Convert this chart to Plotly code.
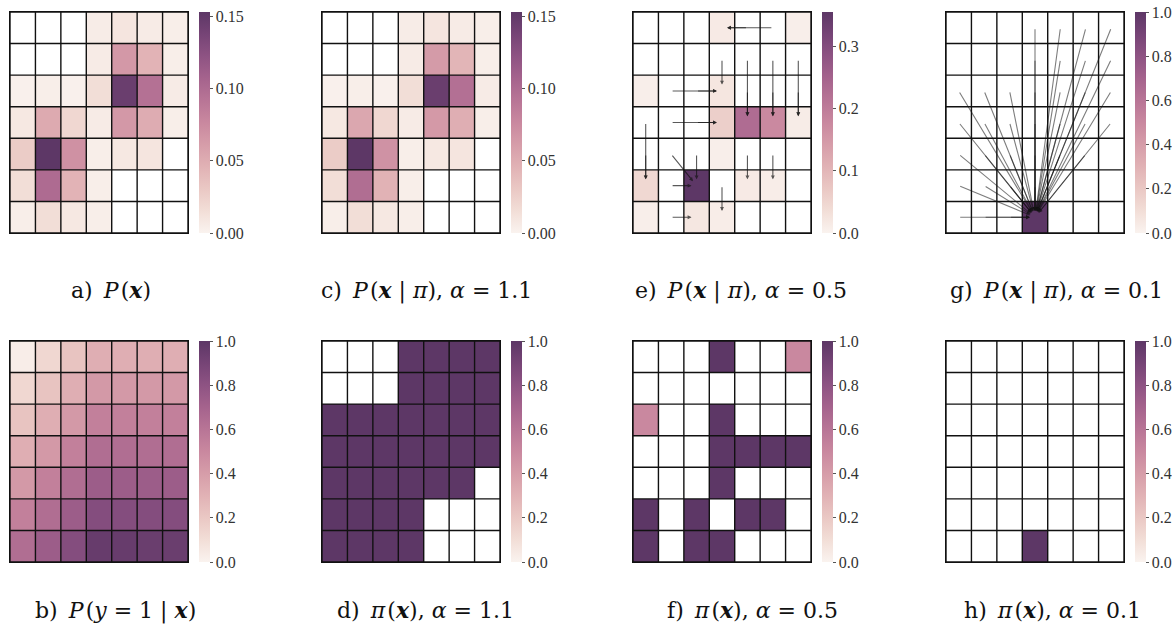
import numpy as np
import plotly.graph_objects as go

N = None

# a) P(x)
p_x = [
    [N, N, N, 0.005, 0.010, 0.006, 0.004],
    [N, N, N, 0.006, 0.065, 0.045, 0.004],
    [0.002, 0.004, 0.002, 0.015, 0.145, 0.095, 0.006],
    [0.008, 0.052, 0.020, 0.006, 0.065, 0.050, 0.004],
    [0.028, 0.153, 0.070, 0.004, 0.008, 0.010, N],
    [0.015, 0.100, 0.045, 0.004, N, N, N],
    [0.004, 0.015, 0.008, 0.004, N, N, N],
]
# c) P(x | pi), alpha = 1.1
p_x_pi_11 = [
    [N, N, N, 0.005, 0.010, 0.006, 0.004],
    [N, N, N, 0.006, 0.063, 0.044, 0.004],
    [0.002, 0.004, 0.002, 0.015, 0.145, 0.096, 0.006],
    [0.008, 0.054, 0.020, 0.006, 0.064, 0.049, 0.004],
    [0.028, 0.153, 0.069, 0.004, 0.008, 0.010, N],
    [0.015, 0.098, 0.046, 0.004, N, N, N],
    [0.004, 0.015, 0.008, 0.004, N, N, N],
]
# e) P(x | pi), alpha = 0.5
p_x_pi_05 = [
    [N, N, N, 0.015, N, N, 0.008],
    [N, N, N, N, N, N, N],
    [0.008, N, N, 0.022, N, N, N],
    [N, N, N, 0.060, 0.230, 0.175, 0.012],
    [N, N, N, 0.008, N, N, N],
    [0.045, N, 0.355, N, 0.015, 0.010, N],
    [0.008, N, 0.020, 0.010, N, N, N],
]
# g) P(x | pi), alpha = 0.1
p_x_pi_01 = [
    [N, N, N, N, N, N, N],
    [N, N, N, N, N, N, N],
    [N, N, N, N, N, N, N],
    [N, N, N, N, N, N, N],
    [N, N, N, N, N, N, N],
    [N, N, N, N, N, N, N],
    [N, N, N, 1.0, N, N, N],
]
# b) P(y = 1 | x)
p_y = [
    [0.03, 0.13, 0.22, 0.32, 0.32, 0.32, 0.32],
    [0.13, 0.22, 0.32, 0.42, 0.42, 0.42, 0.42],
    [0.22, 0.32, 0.42, 0.54, 0.54, 0.54, 0.54],
    [0.32, 0.42, 0.54, 0.64, 0.64, 0.64, 0.64],
    [0.42, 0.54, 0.64, 0.74, 0.74, 0.74, 0.74],
    [0.54, 0.64, 0.74, 0.84, 0.84, 0.84, 0.84],
    [0.64, 0.74, 0.84, 0.96, 0.96, 0.95, 0.95],
]
# d) pi(x), alpha = 1.1
pi_11 = [
    [N, N, N, 1, 1, 1, 1],
    [N, N, N, 1, 1, 1, 1],
    [1, 1, 1, 1, 1, 1, 1],
    [1, 1, 1, 1, 1, 1, 1],
    [1, 1, 1, 1, 1, 1, N],
    [1, 1, 1, 1, N, N, N],
    [1, 1, 1, 1, N, N, N],
]
# f) pi(x), alpha = 0.5
pi_05 = [
    [N, N, N, 1, N, N, 0.5],
    [N, N, N, N, N, N, N],
    [0.5, N, N, 1, N, N, N],
    [N, N, N, 1, 1, 1, 1],
    [N, N, N, 1, N, N, N],
    [1, N, 1, N, 1, 1, N],
    [1, N, 1, 1, N, N, N],
]
# h) pi(x), alpha = 0.1
pi_01 = [
    [N, N, N, N, N, N, N],
    [N, N, N, N, N, N, N],
    [N, N, N, N, N, N, N],
    [N, N, N, N, N, N, N],
    [N, N, N, N, N, N, N],
    [N, N, N, N, N, N, N],
    [N, N, N, 1, N, N, N],
]

# moves under the policy, (col, row) -> (col, row)
moves_05 = [
    ((5, 0), (3, 0)), ((4, 0), (3, 0)),
    ((3, 1), (3, 2)), ((4, 1), (4, 3)), ((5, 1), (5, 3)), ((6, 1), (6, 3)),
    ((4, 2), (4, 3)), ((5, 2), (5, 3)), ((6, 2), (6, 3)),
    ((1, 2), (3, 2)), ((2, 2), (3, 2)),
    ((1, 3), (3, 3)), ((2, 3), (3, 3)),
    ((0, 3), (0, 5)), ((0, 4), (0, 5)),
    ((1, 4), (2, 5)), ((2, 4), (2, 5)), ((1, 5), (2, 5)),
    ((4, 4), (4, 5)), ((5, 4), (5, 5)),
    ((3, 5), (3, 6)), ((1, 6), (2, 6)),
]
target_01 = (3, 6)


def cubehelix(n=11, start=0.0, rot=0.4, hue=0.8, light=0.96, dark=0.28):
    out = []
    for i, x in enumerate(np.linspace(light, dark, n)):
        a = hue * x * (1 - x) / 2
        phi = 2 * np.pi * (start / 3 + rot * x)
        r = x + a * (-0.14861 * np.cos(phi) + 1.78277 * np.sin(phi))
        g = x + a * (-0.29227 * np.cos(phi) - 0.90649 * np.sin(phi))
        b = x + a * (1.97294 * np.cos(phi))
        rgb = [int(round(255 * min(max(v, 0), 1))) for v in (r, g, b)]
        out.append([i / (n - 1), 'rgb(%d,%d,%d)' % tuple(rgb)])
    return out


W, H = 1172, 632
SERIF = 'Liberation Serif'
CAP_FONT = 'DejaVu Serif'
cmap = cubehelix()

col_x = [10, 322, 633, 946]
row_y = [12, 341]
pw, ph = 178, 221
cap_x = [[111, 115], [426, 425], [741, 752], [1056, 1052]]
cap_y = [290, 610]

EN, HAIR = '\u2002', '\u200a'
X = '<b><i>x</i></b>'
panels = [
    (p_x, 0.153, [0, 0.05, 0.10, 0.15], '.2f', 0, 0,
     f'a){EN}<i>P</i>{HAIR}({X})'),
    (p_y, 1.0, [0, 0.2, 0.4, 0.6, 0.8, 1.0], '.1f', 0, 1,
     f'b){EN}<i>P</i>{HAIR}(<i>y</i> = 1 | {X})'),
    (p_x_pi_11, 0.153, [0, 0.05, 0.10, 0.15], '.2f', 1, 0,
     f'c){EN}<i>P</i>{HAIR}({X} | <i>π</i>), <i>α</i> = 1.1'),
    (pi_11, 1.0, [0, 0.2, 0.4, 0.6, 0.8, 1.0], '.1f', 1, 1,
     f'd){EN}<i>π</i>{HAIR}({X}), <i>α</i> = 1.1'),
    (p_x_pi_05, 0.355, [0, 0.1, 0.2, 0.3], '.1f', 2, 0,
     f'e){EN}<i>P</i>{HAIR}({X} | <i>π</i>), <i>α</i> = 0.5'),
    (pi_05, 1.0, [0, 0.2, 0.4, 0.6, 0.8, 1.0], '.1f', 2, 1,
     f'f){EN}<i>π</i>{HAIR}({X}), <i>α</i> = 0.5'),
    (p_x_pi_01, 1.0, [0, 0.2, 0.4, 0.6, 0.8, 1.0], '.1f', 3, 0,
     f'g){EN}<i>P</i>{HAIR}({X} | <i>π</i>), <i>α</i> = 0.1'),
    (pi_01, 1.0, [0, 0.2, 0.4, 0.6, 0.8, 1.0], '.1f', 3, 1,
     f'h){EN}<i>π</i>{HAIR}({X}), <i>α</i> = 0.1'),
]

fig = go.Figure()
layout = {}
annotations = []

for k, (z, vmax, tv, fmt, c, r, cap) in enumerate(panels):
    n = k + 1
    sfx = '' if n == 1 else str(n)
    xa, ya = 'x' + sfx, 'y' + sfx
    x0, y0 = col_x[c], row_y[r]

    fig.add_trace(go.Heatmap(
        z=z, xaxis=xa, yaxis=ya, zmin=0, zmax=vmax, colorscale=cmap,
        hoverongaps=False,
        colorbar=dict(
            x=(x0 + 189) / W, xanchor='left', y=1 - (y0 + ph) / H, yanchor='bottom',
            len=ph / H, thickness=11, outlinewidth=0, xpad=0, ypad=0,
            tickvals=tv, tickformat=fmt, ticks='outside', ticklen=3, tickwidth=1,
            tickcolor='#555', tickfont=dict(family=SERIF, size=16, color='#333'),
        ),
    ))

    # cell borders
    gx, gy = [], []
    for i in range(8):
        gx += [i - 0.5, i - 0.5, None, -0.5, 6.5, None]
        gy += [-0.5, 6.5, None, i - 0.5, i - 0.5, None]
    fig.add_trace(go.Scatter(x=gx, y=gy, xaxis=xa, yaxis=ya, mode='lines',
                             line=dict(color='#111', width=1.4),
                             hoverinfo='skip', showlegend=False))

    layout['xaxis' + sfx] = dict(domain=[x0 / W, (x0 + pw) / W], range=[-0.5, 6.5], anchor=ya,
                                 showgrid=False, zeroline=False, showticklabels=False, ticks='',
                                 showline=True, mirror=True, linecolor='#111', linewidth=1.2)
    layout['yaxis' + sfx] = dict(domain=[1 - (y0 + ph) / H, 1 - y0 / H], range=[6.5, -0.5],
                                 anchor=xa, showgrid=False, zeroline=False,
                                 showticklabels=False, ticks='',
                                 showline=True, mirror=True, linecolor='#111', linewidth=1.2)

    annotations.append(dict(x=cap_x[c][r] / W, y=1 - cap_y[r] / H, xref='paper', yref='paper',
                            text=cap, showarrow=False, xanchor='center', yanchor='middle',
                            font=dict(family=CAP_FONT, size=22, color='#111')))

    # arrows
    moves = []
    if z is p_x_pi_05:
        moves = moves_05
    elif z is p_x_pi_01:
        for rr in range(7):
            for cc in range(7):
                if p_x[rr][cc] is not None and (cc, rr) != target_01:
                    moves.append(((cc, rr), target_01))
    for (sc, sr), (tc, tr) in moves:
        dx, dy = tc - sc, tr - sr
        d = (dx * dx + dy * dy) ** 0.5
        annotations.append(dict(
            x=tc - 0.2 * dx / d, y=tr - 0.2 * dy / d, ax=sc, ay=sr,
            xref=xa, yref=ya, axref=xa, ayref=ya, text='', showarrow=True,
            arrowhead=2, arrowsize=0.7, arrowwidth=1.1, standoff=0,
            arrowcolor='rgba(20,20,20,0.7)' if z is p_x_pi_05 else 'rgba(20,20,20,0.55)',
        ))

fig.update_layout(
    width=W, height=H, margin=dict(l=0, r=0, t=0, b=0, autoexpand=False),
    plot_bgcolor='white', paper_bgcolor='white', showlegend=False,
    annotations=annotations, **layout,
)

fig.write_html("out.html", config={'displayModeBar': False},
               post_script="document.body.style.margin='0';")
